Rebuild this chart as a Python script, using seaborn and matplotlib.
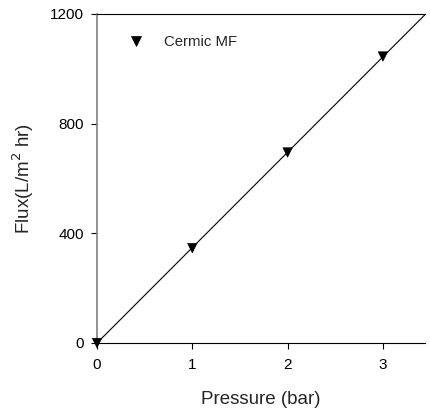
import numpy as np
import pandas as pd
import matplotlib
matplotlib.use("Agg")
import matplotlib.pyplot as plt
import seaborn as sns

# data
pressure = [0, 1, 2, 3]
flux = [0, 346, 695, 1045]
series = ["Cermic MF"] * 4

df = pd.DataFrame({"Pressure": pressure, "Flux": flux, "Series": series})

sns.set_style("ticks")
plt.rcParams['font.family'] = ['Liberation Sans', 'DejaVu Sans']

fig = plt.figure(figsize=(4.3, 4.09), dpi=100)
ax = fig.add_axes([0.2256, 0.1614, 0.7624, 0.8044])

# linear fit through origin
slope = np.sum(np.array(pressure) * np.array(flux)) / np.sum(np.array(pressure) ** 2)
xfit = np.array([0, 4])
ax.plot(xfit, slope * xfit, color="black", lw=0.8, zorder=2)

sns.scatterplot(data=df, x="Pressure", y="Flux", hue="Series", palette=["black"],
                marker="v", s=45, edgecolor="black", linewidth=0.5, ax=ax, zorder=3,
                clip_on=False)

ax.set_xlim(0, 3.44)
ax.set_ylim(0, 1200)
ax.set_xticks([0, 1, 2, 3])
ax.set_yticks([0, 400, 800, 1200])
ax.tick_params(labelsize=11, length=4.5, width=0.8, colors="black")
ax.tick_params(axis="y", pad=5)
ax.tick_params(axis="x", pad=6)
ax.spines["right"].set_visible(False)
ax.spines["top"].set_visible(True)
ax.spines["top"].set_linewidth(0.8)
ax.spines["bottom"].set_linewidth(0.8)
ax.spines["left"].set_color("#808080")
ax.spines["left"].set_linewidth(1.2)
for s in ["top", "bottom"]:
    ax.spines[s].set_color("black")

ax.set_xlabel("Pressure (bar)", fontsize=13.5, labelpad=14)
ax.set_ylabel("Flux(L/m$^2$ hr)", fontsize=13.5, labelpad=10)

leg = ax.legend(loc="upper left", bbox_to_anchor=(0.033, 0.976), frameon=False,
                fontsize=10.7, handletextpad=0.9, title=None)

fig.savefig("out.png", dpi=100)
